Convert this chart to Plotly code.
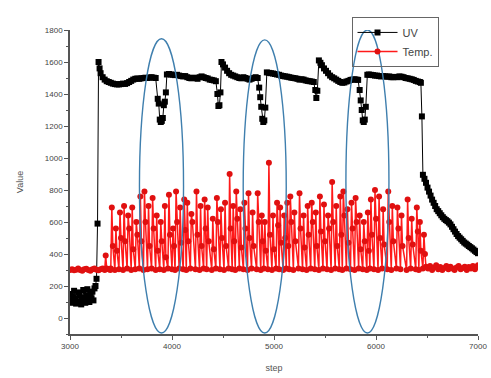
import plotly.graph_objects as go

# ---------------- data ----------------
uv_step = [
    3000, 3010, 3020, 3030, 3040, 3050, 3060, 3070, 3080, 3090, 3100, 3110, 3120,
    3130, 3140, 3150, 3160, 3170, 3180, 3190, 3200, 3210, 3220, 3230, 3240, 3250,
    3260, 3270, 3280,
    3290, 3300, 3320, 3340, 3360, 3380, 3400, 3420, 3440, 3460, 3480, 3500, 3520,
    3540, 3560, 3580, 3600, 3620, 3640, 3660, 3680, 3700, 3720, 3740, 3760, 3780,
    3800, 3820, 3840,
    3860, 3870, 3880, 3890, 3900, 3910, 3920, 3930, 3940, 3950,
    3970, 3990, 4010, 4030, 4050, 4070, 4090, 4110, 4130, 4150, 4170, 4190, 4210,
    4230, 4250, 4270, 4290, 4310, 4330, 4350, 4370, 4390, 4410, 4430,
    4445, 4455, 4465, 4475, 4485, 4500, 4520, 4540, 4560, 4580, 4600, 4620, 4640,
    4660, 4680, 4700, 4720, 4740, 4760, 4780, 4800, 4820, 4840,
    4855, 4865, 4875, 4885, 4895, 4905, 4915, 4930,
    4950, 4970, 4990, 5010, 5030, 5050, 5070, 5090, 5110, 5130, 5150, 5170, 5190,
    5210, 5230, 5250, 5270, 5290, 5310, 5330, 5350, 5370, 5390,
    5405, 5415, 5425, 5440, 5455, 5470, 5490, 5510, 5530, 5550, 5570, 5590, 5610,
    5630, 5650, 5670, 5690, 5710, 5730, 5750, 5770, 5790, 5810, 5825,
    5840, 5850, 5860, 5870, 5880, 5890, 5900, 5915,
    5930, 5950, 5970, 5990, 6010, 6030, 6050, 6070, 6090, 6110, 6130, 6150, 6170,
    6190, 6210, 6230, 6250, 6270, 6290, 6310, 6330, 6350, 6370, 6390, 6410, 6430,
    6440,
    6450, 6460, 6475, 6490, 6505, 6520, 6535, 6550, 6565, 6580, 6595, 6610, 6625,
    6640, 6655, 6670, 6685, 6700, 6715, 6730, 6745, 6760, 6775, 6790, 6805, 6820,
    6835, 6850, 6865, 6880, 6895, 6910, 6925, 6940, 6955, 6970, 6985, 7000,
]
uv_value = [
    150, 110, 95, 130, 170, 120, 90, 100, 160, 140, 105, 85, 125,
    175, 115, 95, 140, 180, 130, 100, 150, 120, 165, 110, 185, 200,
    245, 590, 1600,
    1560, 1530, 1505, 1490, 1480, 1475, 1470, 1465, 1462, 1460, 1460, 1462, 1465,
    1463, 1468, 1475, 1482, 1490, 1495, 1497, 1495, 1498, 1500, 1502, 1500, 1503,
    1505, 1502, 1500,
    1370, 1340, 1240, 1225, 1232, 1250, 1330, 1352, 1410, 1522,
    1525, 1522, 1520, 1518, 1520, 1515, 1512, 1510, 1512, 1505, 1500, 1498, 1502,
    1500, 1495, 1505, 1510, 1505, 1500, 1497, 1490, 1488, 1485, 1480,
    1400, 1325, 1330, 1410, 1600, 1585, 1565, 1545, 1530, 1520, 1515, 1510, 1505,
    1500, 1498, 1505, 1500, 1495, 1490, 1495, 1500, 1505, 1500,
    1440, 1380, 1320, 1245, 1225, 1235, 1315, 1535,
    1532, 1530, 1528, 1525, 1522, 1520, 1515, 1512, 1510, 1508, 1505, 1502, 1500,
    1498, 1495, 1490, 1492, 1490, 1485, 1482, 1480, 1478, 1475,
    1425, 1375, 1420, 1610, 1595, 1580, 1560, 1545, 1530, 1515, 1505, 1498, 1490,
    1482, 1475, 1470, 1472, 1478, 1482, 1488, 1490, 1492, 1490, 1488,
    1425, 1360, 1300, 1235, 1225, 1240, 1320, 1520,
    1522, 1520, 1518, 1515, 1515, 1512, 1510, 1512, 1510, 1508, 1510, 1505, 1505,
    1507, 1505, 1510, 1508, 1505, 1500, 1498, 1495, 1492, 1488, 1482, 1478, 1475,
    1470,
    1260, 895, 870, 845, 815, 790, 765, 740, 720, 700, 680, 668, 655,
    642, 630, 620, 612, 605, 596, 585, 570, 555, 540, 525, 512, 502,
    492, 482, 472, 465, 458, 450, 443, 436, 428, 420, 412, 405,
]

temp_step = [
    3000, 3020, 3040, 3060, 3080, 3100, 3120, 3140, 3160, 3180, 3200, 3220, 3240,
    3260, 3280, 3300, 3320, 3340, 3350, 3360, 3380, 3395,
    3400, 3410, 3420, 3440, 3450, 3460, 3480, 3490, 3500, 3520, 3530, 3540,
    3560, 3570, 3580, 3600, 3610, 3620, 3640, 3650, 3660, 3680, 3690, 3700,
    3720, 3730, 3740, 3760, 3770, 3780, 3800, 3810, 3820, 3840, 3850, 3860,
    3880, 3890, 3900, 3920, 3930, 3940, 3960, 3970, 3980, 4000, 4010, 4020,
    4030, 4040, 4050, 4070, 4080, 4090, 4110, 4120, 4130, 4140, 4150, 4160,
    4180, 4190, 4200, 4230, 4240, 4250, 4270, 4280, 4290, 4310, 4320, 4330,
    4340, 4350, 4360, 4390, 4400, 4410, 4430, 4440, 4450, 4470, 4480, 4490,
    4510, 4520, 4530, 4555, 4565, 4575, 4590, 4600, 4610, 4620, 4630, 4640,
    4660, 4670, 4680, 4700, 4710, 4720, 4740, 4750, 4760, 4780, 4790, 4800,
    4830, 4840, 4850, 4870, 4880, 4890, 4900, 4910, 4920, 4940, 4950, 4960,
    4980, 4990, 5000, 5020, 5030, 5040, 5050, 5060, 5070, 5090, 5100, 5110,
    5120, 5130, 5140, 5150, 5160, 5170, 5190, 5200, 5210, 5240, 5250, 5260,
    5280, 5290, 5300, 5320, 5330, 5340, 5360, 5370, 5380, 5400, 5410, 5420,
    5440, 5450, 5460, 5480, 5490, 5500, 5520, 5530, 5540, 5560, 5570, 5580,
    5600, 5610, 5620, 5640, 5650, 5660, 5670, 5680, 5690, 5710, 5720, 5730,
    5750, 5760, 5770, 5790, 5800, 5810, 5830, 5840, 5850, 5870, 5880, 5890,
    5910, 5920, 5930, 5940, 5950, 5960, 5980, 5990, 6000, 6020, 6030, 6040,
    6060, 6070, 6080, 6110, 6120, 6130, 6150, 6160, 6170, 6200, 6210, 6220,
    6240, 6250, 6260, 6300, 6310, 6320, 6340, 6350, 6360, 6390, 6400, 6410,
    6420, 6430, 6440, 6460, 6470, 6480,
    6490, 6510, 6530, 6550, 6570, 6590, 6610, 6630, 6650, 6670, 6690, 6710, 6730,
    6750, 6770, 6790, 6810, 6830, 6850, 6870, 6890, 6910, 6930, 6950, 6970, 6990,
    7000,
]
temp_value = [
    300, 305, 298, 302, 310, 300, 295, 305, 308, 300, 296, 304, 310,
    302, 298, 305, 310, 300, 390, 310, 305, 300,
    310, 690, 450, 300, 560, 420, 305, 660, 500, 300, 700, 480,
    310, 640, 560, 300, 690, 430, 305, 600, 520, 310, 760, 480,
    300, 790, 600, 305, 700, 450, 310, 750, 560, 300, 640, 420,
    305, 600, 480, 300, 700, 380, 310, 770, 520, 305, 560, 450,
    300, 790, 600, 310, 690, 470, 305, 740, 550, 300, 720, 480,
    310, 650, 600, 305, 790, 520, 300, 700, 450, 310, 740, 560,
    305, 690, 480, 300, 620, 430, 310, 750, 600, 305, 680, 500,
    300, 720, 450, 310, 900, 560, 305, 700, 480, 300, 790, 620,
    310, 680, 440, 305, 720, 560, 300, 780, 500, 310, 660, 450,
    305, 780, 600, 300, 640, 480, 310, 600, 420, 305, 970, 520,
    300, 640, 430, 310, 720, 580, 305, 690, 470, 300, 640, 500,
    310, 720, 450, 305, 760, 600, 300, 660, 480, 310, 780, 560,
    305, 640, 440, 300, 700, 520, 310, 720, 600, 305, 660, 450,
    300, 760, 540, 310, 710, 480, 305, 640, 560, 300, 850, 600,
    310, 700, 450, 305, 760, 520, 300, 790, 640, 310, 680, 470,
    305, 720, 560, 300, 750, 600, 310, 640, 430, 305, 600, 480,
    300, 660, 420, 310, 740, 520, 305, 800, 620, 300, 760, 500,
    310, 680, 460, 305, 790, 600, 300, 700, 480, 310, 690, 560,
    305, 640, 450, 300, 740, 500, 310, 620, 460, 305, 690, 540,
    300, 600, 420, 310, 520, 400,
    320, 310, 325, 300, 315, 330, 305, 318, 300, 312, 325, 305, 320,
    310, 300, 315, 325, 305, 312, 320, 300, 318, 310, 325, 305, 320,
    330,
]

x_ticks = [3000, 4000, 5000, 6000, 7000]
y_ticks = [0, 200, 400, 600, 800, 1000, 1200, 1400, 1600, 1800]

# highlighted regions (ellipses) in data units
ell_x0 = [3681, 4698, 5705]
ell_x1 = [4113, 5120, 6127]
ell_y0 = [-94, -94, -94]
ell_y1 = [1745, 1738, 1800]

FONT = "Liberation Sans, Arial, sans-serif"

fig = go.Figure()
fig.add_trace(go.Scatter(
    x=uv_step, y=uv_value, name="UV", mode="lines+markers",
    line=dict(color="black", width=1),
    marker=dict(symbol="square", size=6, color="black"),
))
fig.add_trace(go.Scatter(
    x=temp_step, y=temp_value, name="Temp.", mode="lines+markers",
    line=dict(color="#ff1a1a", width=1.5),
    marker=dict(symbol="circle", size=6, color="#e01010"),
))

for a, b, c, d in zip(ell_x0, ell_x1, ell_y0, ell_y1):
    fig.add_shape(type="circle", xref="x", yref="y", x0=a, x1=b, y0=c, y1=d,
                  line=dict(color="#3f7fae", width=1.4), layer="above")

fig.update_layout(
    width=491, height=378,
    margin=dict(l=70, r=4, t=30, b=44),
    paper_bgcolor="white", plot_bgcolor="white",
    font=dict(family=FONT, color="#444", size=8),
    showlegend=True,
    legend=dict(x=0.69, y=1.043, xanchor="left", yanchor="top",
                bordercolor="#666", borderwidth=1, bgcolor="rgba(255,255,255,0)",
                font=dict(size=11, color="#444"), tracegroupgap=0,
                itemwidth=40),
)
fig.update_xaxes(
    range=[3000, 7000], tickvals=x_ticks, ticks="outside", ticklen=4,
    tickwidth=1, tickcolor="#555", showline=True, linecolor="#555", linewidth=1.5,
    showgrid=False, zeroline=False, tickfont=dict(size=8, color="#444"),
    ticklabeloverflow="allow",
    minor=dict(dtick=500, tick0=3500, ticks="outside", ticklen=2, tickcolor="#555"),
    title=dict(text="step", font=dict(size=9, color="#555"), standoff=14),
)
fig.update_yaxes(
    range=[-100, 1800], tickvals=y_ticks, ticks="outside", ticklen=4,
    tickwidth=1, tickcolor="#555", showline=True, linecolor="#555", linewidth=1.5,
    showgrid=False, zeroline=False, tickfont=dict(size=8, color="#444"),
    minor=dict(dtick=100, tick0=100, ticks="outside", ticklen=2, tickcolor="#555"),
    title=dict(text="Value", font=dict(size=9, color="#555"), standoff=20),
)

fig.write_html("out.html")
